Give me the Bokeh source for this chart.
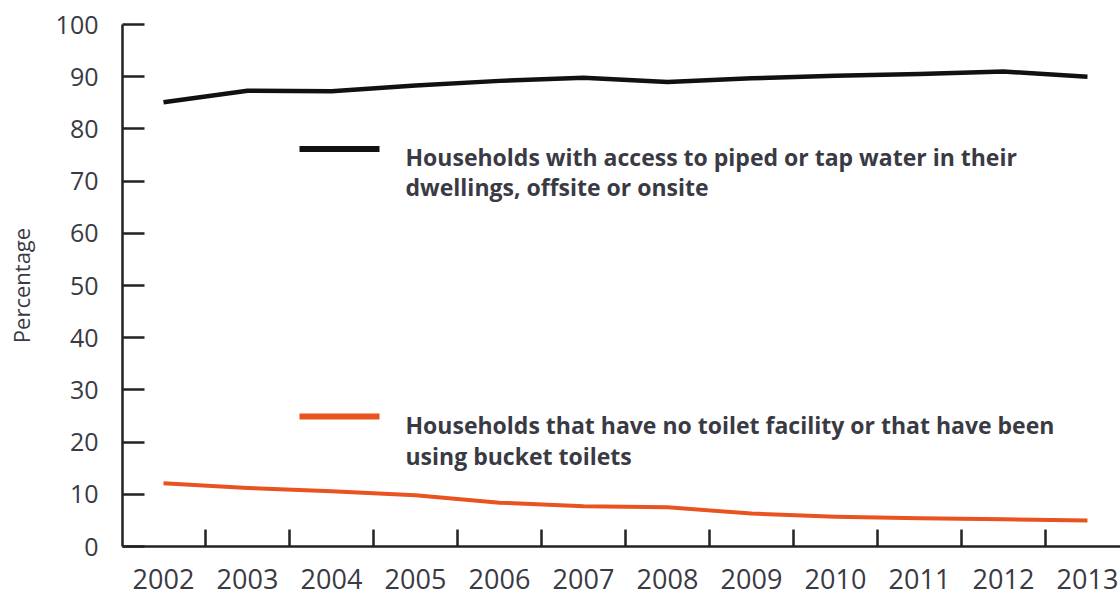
from bokeh.plotting import figure
from bokeh.models import Range1d, FixedTicker, Label, BoxAnnotation
from bokeh.embed import file_html
from bokeh.resources import INLINE

# ---- data ----
years = [2002, 2003, 2004, 2005, 2006, 2007, 2008, 2009, 2010, 2011, 2012, 2013]
piped_water = [85.1, 87.3, 87.2, 88.3, 89.2, 89.8, 89.0, 89.7, 90.2, 90.5, 91.0, 90.0]
no_toilet = [12.1, 11.2, 10.6, 9.8, 8.4, 7.7, 7.5, 6.3, 5.7, 5.4, 5.2, 5.0]
y_ticks = [0, 10, 20, 30, 40, 50, 60, 70, 80, 90, 100]
legend_piped = ["Households with access to piped or tap water in their",
                "dwellings, offsite or onsite"]
legend_toilet = ["Households that have no toilet facility or that have been",
                 "using bucket toilets"]
y_title = "Percentage"

BLACK = "#111111"
ORANGE = "#E8531F"
AXIS = "#222222"
TEXT = "#3a3a44"
FONT = "Open Sans"

p = figure(width=1120, height=601, output_backend="svg", toolbar_location=None,
           x_range=Range1d(2001.512, 2013.393), y_range=Range1d(0, 100),
           min_border_left=122, min_border_right=0, min_border_top=24,
           min_border_bottom=55)
p.grid.visible = False
p.outline_line_color = None
p.background_fill_color = "white"
p.border_fill_color = "white"

# series
p.line(years, piped_water, line_color=BLACK, line_width=4.5, line_join="round")
p.line(years, no_toilet, line_color=ORANGE, line_width=4, line_join="round")

# y axis
ya = p.yaxis[0]
ya.ticker = FixedTicker(ticks=y_ticks)
ya.major_tick_in = 22
ya.major_tick_out = 0
ya.minor_tick_line_color = None
ya.axis_line_width = 2.5
ya.axis_line_color = AXIS
ya.major_tick_line_width = 2.5
ya.major_tick_line_color = AXIS
ya.major_label_text_font = FONT
ya.major_label_text_font_size = "25px"
ya.major_label_text_color = TEXT
ya.major_label_standoff = 24
ya.axis_label = y_title
ya.axis_label_text_font = FONT
ya.axis_label_text_font_size = "22px"
ya.axis_label_text_font_style = "normal"
ya.axis_label_text_color = TEXT
ya.axis_label_standoff = 17

# x axis: labels at years, ticks between years
mids = [(a + b) / 2 for a, b in zip(years[:-1], years[1:])]
xa = p.xaxis[0]
xa.ticker = FixedTicker(ticks=years, minor_ticks=mids)
xa.major_tick_line_color = None
xa.major_tick_in = 0
xa.major_tick_out = 0
xa.minor_tick_in = 17
xa.minor_tick_out = 0
xa.minor_tick_line_width = 2.5
xa.minor_tick_line_color = AXIS
xa.axis_line_width = 2.5
xa.axis_line_color = AXIS
xa.major_label_text_font = FONT
xa.major_label_text_font_size = "27px"
xa.major_label_text_color = TEXT
xa.major_label_standoff = 22

# legend (keys + text), positioned in screen units relative to the frame
def legend_entry(color, key_y, lines, base_y, gap):
    p.add_layout(BoxAnnotation(left=177, right=257, bottom=key_y - 3, top=key_y + 3,
                               left_units="screen", right_units="screen",
                               bottom_units="screen", top_units="screen",
                               fill_color=color, fill_alpha=1, line_color=None))
    for i, t in enumerate(lines):
        p.add_layout(Label(x=283, y=base_y - i * gap, x_units="screen", y_units="screen",
                           text=t, text_font=FONT, text_font_size="23px",
                           text_font_style="bold",
                           text_color=TEXT, text_baseline="alphabetic"))

legend_entry(BLACK, 546 - 148.5, legend_piped, 546 - 156, 30)
legend_entry(ORANGE, 546 - 416, legend_toilet, 546 - 424, 31)

open("out.html", "w").write(file_html(p, INLINE))
